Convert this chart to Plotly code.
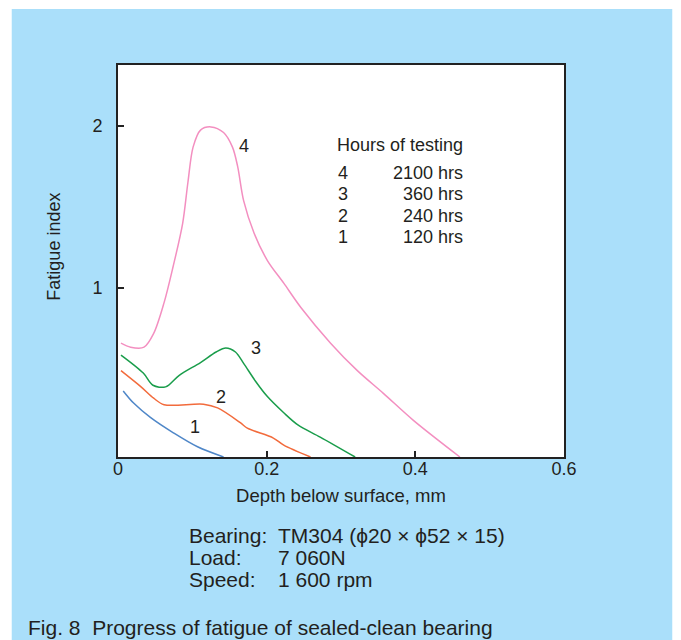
import plotly.graph_objects as go

# ---- data ----
depth_4 = [0.004, 0.017, 0.035, 0.048, 0.062, 0.074, 0.087, 0.094, 0.101, 0.111, 0.125,
           0.142, 0.154, 0.161, 0.169, 0.183, 0.201, 0.223, 0.246, 0.286, 0.322, 0.357,
           0.397, 0.460]
index_4 = [0.66, 0.635, 0.635, 0.72, 0.91, 1.13, 1.40, 1.65, 1.87, 1.975, 1.995,
           1.96, 1.87, 1.75, 1.54, 1.34, 1.17, 1.03, 0.88, 0.66, 0.49, 0.35,
           0.185, -0.043]

depth_3 = [0.004, 0.034, 0.047, 0.064, 0.082, 0.111, 0.132, 0.145, 0.158, 0.169,
           0.185, 0.201, 0.223, 0.242, 0.272, 0.319]
index_3 = [0.586, 0.475, 0.40, 0.39, 0.46, 0.54, 0.605, 0.63, 0.605, 0.535,
           0.425, 0.33, 0.23, 0.155, 0.08, -0.043]

depth_2 = [0.004, 0.031, 0.048, 0.062, 0.115, 0.134, 0.165, 0.174, 0.209, 0.223, 0.259]
index_2 = [0.49, 0.39, 0.32, 0.28, 0.283, 0.26, 0.167, 0.135, 0.074, 0.03, -0.043]

depth_1 = [0.007, 0.021, 0.044, 0.075, 0.107, 0.142]
index_1 = [0.365, 0.29, 0.20, 0.105, 0.02, -0.043]

curve_ids = ["4", "3", "2", "1"]
curve_colors = ["#f38fc0", "#1a9d4b", "#f26b3c", "#4f87c8"]
label_x = [0.169, 0.185, 0.139, 0.104]
label_y = [1.88, 0.63, 0.33, 0.14]

legend_title = "Hours of testing"
legend_ids = ["4", "3", "2", "1"]
legend_hours = ["2100 hrs", "360 hrs", "240 hrs", "120 hrs"]

x_ticks = [0, 0.2, 0.4, 0.6]
x_tick_text = ["0", "0.2", "0.4", "0.6"]
y_ticks = [1, 2]
y_tick_text = ["1", "2"]

info_keys = ["Bearing:", "Load:", "Speed:"]
info_values = ["TM304 (\u03d520 \u00d7 \u03d552 \u00d7 15)", "7 060N", "1 600 rpm"]
caption = "Fig. 8  Progress of fatigue of sealed-clean bearing"

# ---- styling ----
TXT = "#231f20"
FONT = "Liberation Sans, Arial, sans-serif"
BG = "#aadffa"

OFF = 8  # page body margin: screen pixel = figure pixel + 8
W, H = 681, 640
# plot area in screen pixels: x 117.5..564.5, y 65..457
L = 117.5 - OFF
R = W - (564.5 - OFF)
T = 65 - OFF
B = H - (457 - OFF)
PW, PH = W - L - R, H - T - B


def px_x(sx):
    return (sx - OFF - L) / PW


def px_y(sy):
    return (H - B - (sy - OFF)) / PH


fig = go.Figure()
series = [(depth_4, index_4), (depth_3, index_3), (depth_2, index_2), (depth_1, index_1)]
for (xs, ys), cid, col in zip(series, curve_ids, curve_colors):
    fig.add_trace(go.Scatter(x=xs, y=ys, mode="lines", name=cid,
                             line=dict(color=col, width=1.5, shape="spline", smoothing=0.9),
                             showlegend=False, cliponaxis=True))

annotations = []


def ann(**kw):
    base = dict(showarrow=False, xanchor="center", yanchor="middle")
    base.update(kw)
    annotations.append(base)


for cid, lx, ly in zip(curve_ids, label_x, label_y):
    ann(x=lx, y=ly, xref="x", yref="y", text=cid,
        font=dict(size=18, color=TXT, family=FONT))

# legend-like table
ann(x=px_x(400), y=px_y(145), xref="paper", yref="paper", text=legend_title,
    font=dict(size=18, color=TXT, family=FONT))
row_y = [173, 194, 216, 237]
for lid, hrs, ry in zip(legend_ids, legend_hours, row_y):
    ann(x=px_x(343), y=px_y(ry), xref="paper", yref="paper", text=lid,
        font=dict(size=18, color=TXT, family=FONT))
    ann(x=px_x(465), y=px_y(ry), xref="paper", yref="paper", text=hrs, xanchor="right",
        font=dict(size=18, color=TXT, family=FONT))

# y axis title
ann(x=px_x(53), y=px_y(247), xref="paper", yref="paper", text="Fatigue index",
    textangle=-90, font=dict(size=18, color=TXT, family=FONT))

# info block
info_y = [535, 557, 579]
for k, v, iy in zip(info_keys, info_values, info_y):
    ann(x=px_x(187), y=px_y(iy), xref="paper", yref="paper", text=k, xanchor="left",
        font=dict(size=21, color=TXT, family=FONT))
    ann(x=px_x(276), y=px_y(iy), xref="paper", yref="paper", text=v, xanchor="left",
        font=dict(size=21, color=TXT, family=FONT))

ann(x=px_x(25), y=px_y(627), xref="paper", yref="paper", text=caption, xanchor="left",
    font=dict(size=21, color=TXT, family=FONT))

shapes = [
    dict(type="rect", xref="paper", yref="paper", layer="below",
         x0=px_x(11), x1=px_x(673), y0=px_y(660), y1=px_y(9),
         fillcolor=BG, line=dict(width=0)),
    dict(type="rect", xref="paper", yref="paper", layer="below",
         x0=0, x1=1, y0=0, y1=1, fillcolor="white", line=dict(width=0)),
]

fig.update_layout(
    width=W, height=H,
    margin=dict(l=L, r=R, t=T, b=B, pad=0),
    paper_bgcolor="white", plot_bgcolor="white",
    font=dict(family=FONT, color=TXT, size=18),
    annotations=annotations, shapes=shapes,
    xaxis=dict(range=[0, 0.6], tickvals=x_ticks, ticktext=x_tick_text,
               ticks="inside", ticklen=6, tickwidth=1.5, tickcolor="#222",
               showline=True, linecolor="#222", linewidth=2, mirror=True,
               showgrid=False, zeroline=False, ticklabelstandoff=-6,
               tickfont=dict(size=18, color=TXT, family=FONT),
               title=dict(text="Depth below surface, mm", standoff=11,
                          font=dict(size=18.5, color=TXT, family=FONT))),
    yaxis=dict(range=[-0.043, 2.377], tickvals=y_ticks, ticktext=y_tick_text,
               ticks="inside", ticklen=6, tickwidth=1.5, tickcolor="#222",
               showline=True, linecolor="#222", linewidth=2, mirror=True,
               showgrid=False, zeroline=False, ticklabelstandoff=10,
               tickfont=dict(size=18, color=TXT, family=FONT)),
)

fig.write_html("out.html")
